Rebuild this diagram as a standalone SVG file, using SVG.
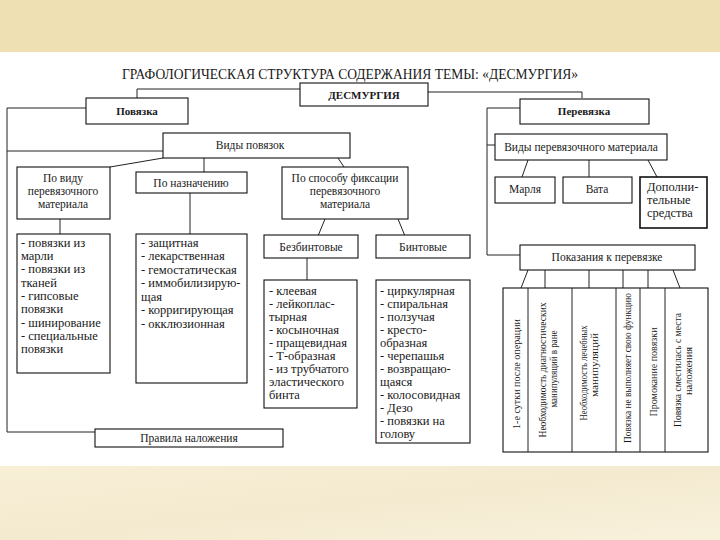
<svg xmlns="http://www.w3.org/2000/svg" width="720" height="540" viewBox="0 0 720 540" font-family="'Liberation Serif', 'Times New Roman', serif">
<defs>
<linearGradient id="bot" x1="0" y1="0" x2="1" y2="1">
<stop offset="0" stop-color="#f7efd6"/>
<stop offset="0.5" stop-color="#f4ead0"/>
<stop offset="1" stop-color="#f8f1dc"/>
</linearGradient>
</defs>
<style>
.box{fill:#fff;stroke:#111;stroke-width:1.1}
.ln{fill:none;stroke:#222;stroke-width:1}
text{font-family:'Liberation Serif','Times New Roman',serif;fill:#1a1a1a}
.lb{font-size:11.5px;text-anchor:middle}
.bd{font-size:11px;font-weight:bold;text-anchor:middle}
.li{font-size:12.5px}
.vt{font-size:9.5px;text-anchor:middle}
</style>
<rect x="0" y="0" width="720" height="540" fill="#fff"/>
<rect x="0" y="0" width="720" height="52" fill="#eee0b3"/>
<rect x="0" y="466" width="720" height="74" fill="url(#bot)"/>
<text x="350" y="79" font-size="14" text-anchor="middle" textLength="456" lengthAdjust="spacingAndGlyphs">ГРАФОЛОГИЧЕСКАЯ СТРУКТУРА СОДЕРЖАНИЯ ТЕМЫ: «ДЕСМУРГИЯ»</text>

<g id="connectors">
<path class="ln" d="M300,89 H137 V98"/>
<path class="ln" d="M428,92 H582 V98"/>
<path class="ln" d="M86,108 H7 V432 H95"/>
<path class="ln" d="M7,151 H163"/>
<path class="ln" d="M163,158 L110,167"/>
<path class="ln" d="M204,158 V172"/>
<path class="ln" d="M338,158 L344,167"/>
<path class="ln" d="M60,219 V234"/>
<path class="ln" d="M190,193 V234"/>
<path class="ln" d="M325,219 L318,236"/>
<path class="ln" d="M398,219 L405,236"/>
<path class="ln" d="M307,258 V280"/>
<path class="ln" d="M520,108 H487 V255 H520"/>
<path class="ln" d="M487,145 H495"/>
<path class="ln" d="M528,160 L522,177"/>
<path class="ln" d="M589,160 V177"/>
<path class="ln" d="M648,160 L657,177"/>
<path class="ln" d="M528,270 L521,288"/>
<path class="ln" d="M545,270 V288"/>
<path class="ln" d="M589,270 V288"/>
<path class="ln" d="M623,270 V288"/>
<path class="ln" d="M648,270 V288"/>
<path class="ln" d="M673,270 L680,288"/>
</g>

<g id="desmurgia"><rect class="box" x="300" y="83" width="128" height="23"/><text class="bd" x="364" y="98.5">ДЕСМУРГИЯ</text></g>
<g id="povyazka"><rect class="box" x="86" y="98" width="102" height="26"/><text class="bd" x="137" y="115">Повязка</text></g>
<g id="perevyazka"><rect class="box" x="520" y="99" width="129" height="25"/><text class="bd" x="584" y="115">Перевязка</text></g>

<g id="vidy-povyazok"><rect class="box" x="163" y="133" width="187" height="25"/><text class="lb" x="250" y="149">Виды повязок</text></g>
<g id="po-vidu"><rect class="box" x="17" y="167" width="93" height="52"/>
<text class="lb" x="63" y="182">По виду</text><text class="lb" x="63" y="195">перевязочного</text><text class="lb" x="63" y="208">материала</text></g>
<g id="po-naznacheniyu"><rect class="box" x="136" y="172" width="111" height="21"/><text class="lb" x="191" y="186.5">По назначению</text></g>
<g id="po-sposobu"><rect class="box" x="282" y="167" width="126" height="52"/>
<text class="lb" x="345" y="182">По способу фиксации</text><text class="lb" x="345" y="195">перевязочного</text><text class="lb" x="345" y="208">материала</text></g>

<g id="list-vid"><rect class="box" x="17" y="234" width="93" height="139"/>
<text class="li" x="21" y="246.5">- повязки из</text>
<text class="li" x="21" y="259.5">марли</text>
<text class="li" x="21" y="273">- повязки из</text>
<text class="li" x="21" y="286.5">тканей</text>
<text class="li" x="21" y="299.5">- гипсовые</text>
<text class="li" x="21" y="313">повязки</text>
<text class="li" x="21" y="326.5">- шинирование</text>
<text class="li" x="21" y="339.5">- специальные</text>
<text class="li" x="21" y="353">повязки</text>
</g>
<g id="list-naznach"><rect class="box" x="136" y="234" width="111" height="149"/>
<text class="li" x="141" y="246.5">- защитная</text>
<text class="li" x="141" y="260">- лекарственная</text>
<text class="li" x="141" y="273.5">- гемостатическая</text>
<text class="li" x="141" y="287">- иммобилизирую-</text>
<text class="li" x="141" y="300.5">щая</text>
<text class="li" x="141" y="314">- корригирующая</text>
<text class="li" x="141" y="327.5">- окклюзионная</text>
</g>

<g id="bezbintovye"><rect class="box" x="264" y="235" width="94" height="23"/><text class="lb" x="311" y="250.5">Безбинтовые</text></g>
<g id="bintovye"><rect class="box" x="376" y="235" width="94" height="23"/><text class="lb" x="423" y="250.5">Бинтовые</text></g>

<g id="list-bezbint"><rect class="box" x="264" y="280" width="93" height="128"/>
<text class="li" x="269" y="295">- клеевая</text>
<text class="li" x="269" y="308">- лейкоплас-</text>
<text class="li" x="269" y="321">тырная</text>
<text class="li" x="269" y="334">- косыночная</text>
<text class="li" x="269" y="347">- пращевидная</text>
<text class="li" x="269" y="360">- Т-образная</text>
<text class="li" x="269" y="373">- из трубчатого</text>
<text class="li" x="269" y="386">эластического</text>
<text class="li" x="269" y="399">бинта</text>
</g>
<g id="list-bint"><rect class="box" x="376" y="280" width="94" height="163"/>
<text class="li" x="380" y="295">- циркулярная</text>
<text class="li" x="380" y="308">- спиральная</text>
<text class="li" x="380" y="321">- ползучая</text>
<text class="li" x="380" y="334">- кресто-</text>
<text class="li" x="380" y="347">образная</text>
<text class="li" x="380" y="360">- черепашья</text>
<text class="li" x="380" y="373">- возвращаю-</text>
<text class="li" x="380" y="386">щаяся</text>
<text class="li" x="380" y="399">- колосовидная</text>
<text class="li" x="380" y="412">- Дезо</text>
<text class="li" x="380" y="425">- повязки на</text>
<text class="li" x="380" y="438">голову</text>
</g>

<g id="pravila"><rect class="box" x="95" y="429" width="188" height="18"/><text class="lb" x="189" y="442">Правила наложения</text></g>

<g id="vidy-perev"><rect class="box" x="495" y="134" width="172" height="26"/><text class="lb" x="581" y="151">Виды перевязочного материала</text></g>
<g id="marlya"><rect class="box" x="495" y="177" width="60" height="26"/><text class="lb" x="525" y="193">Марля</text></g>
<g id="vata"><rect class="box" x="563" y="177" width="69" height="26"/><text class="lb" x="597" y="193">Вата</text></g>
<g id="dopoln"><rect class="box" x="640" y="177" width="67" height="51" style="stroke-width:1.6"/>
<text class="li" x="647" y="191" font-size="11.5">Дополни-</text><text class="li" x="647" y="204" font-size="11.5">тельные</text><text class="li" x="647" y="217" font-size="11.5">средства</text></g>

<g id="pokazaniya"><rect class="box" x="520" y="245" width="175" height="25"/><text class="lb" x="607" y="261">Показания к перевязке</text></g>

<g id="pokaz-table">
<rect class="box" x="503" y="288" width="205" height="164"/>
<path class="ln" d="M528,288 V452 M572,288 V452 M616,288 V452 M640,288 V452 M665,288 V452"/>
<text class="vt" font-size="12" transform="translate(519.5,374) rotate(-90)" textLength="110" lengthAdjust="spacingAndGlyphs">1-е сутки после операции</text>
<text class="vt" transform="translate(546,370) rotate(-90)" textLength="135" lengthAdjust="spacingAndGlyphs">Необходимость диагностических</text>
<text class="vt" transform="translate(557,369) rotate(-90)" textLength="77" lengthAdjust="spacingAndGlyphs">манипуляций в ране</text>
<text class="vt" transform="translate(587,373) rotate(-90)" textLength="95" lengthAdjust="spacingAndGlyphs">Необходимость лечебных</text>
<text class="vt" transform="translate(598,365) rotate(-90)" textLength="64" lengthAdjust="spacingAndGlyphs">манипуляций</text>
<text class="vt" transform="translate(631,368) rotate(-90)" textLength="150" lengthAdjust="spacingAndGlyphs">Повязка не выполняет свою функцию</text>
<text class="vt" font-size="11.5" transform="translate(656.5,372) rotate(-90)" textLength="89" lengthAdjust="spacingAndGlyphs">Промокание повязки</text>
<text class="vt" transform="translate(681,370) rotate(-90)" textLength="114" lengthAdjust="spacingAndGlyphs">Повязка сместилась с места</text>
<text class="vt" transform="translate(692,371) rotate(-90)" textLength="48" lengthAdjust="spacingAndGlyphs">наложения</text>
</g>
</svg>
